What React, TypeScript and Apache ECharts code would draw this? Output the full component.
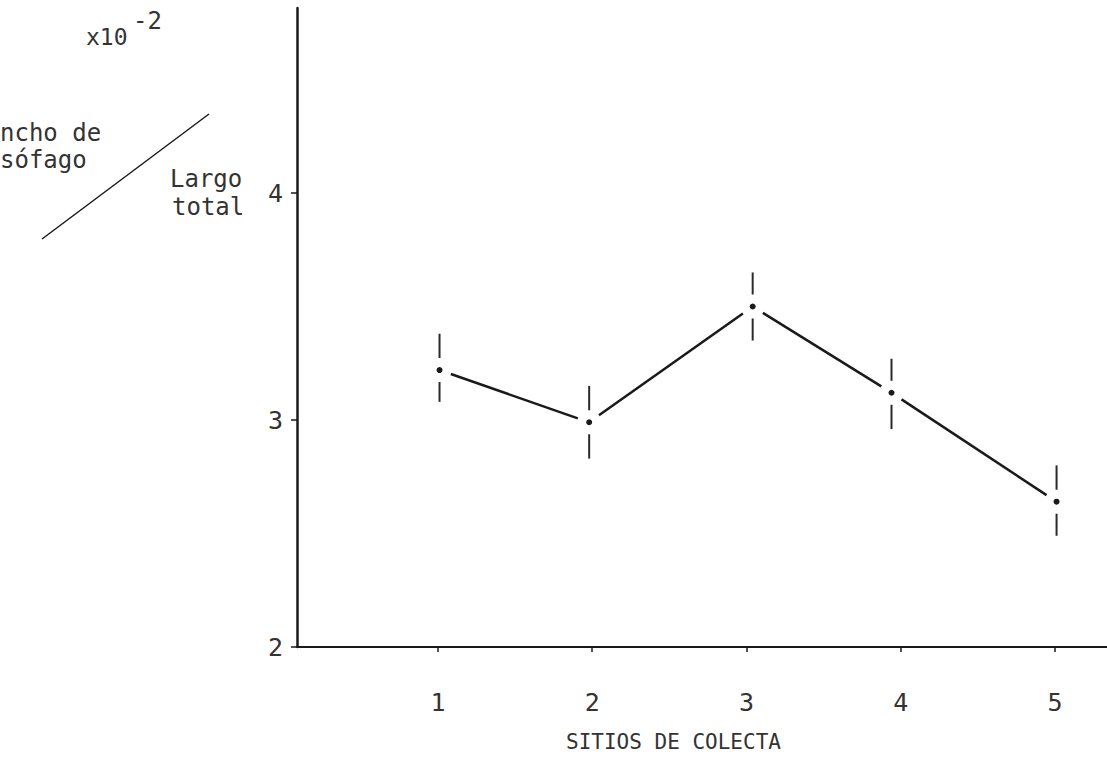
import React, { useEffect, useRef } from "react";
import * as echarts from "echarts";

const xPos = [1.01, 1.98, 3.04, 3.94, 5.01];
const means = [3.22, 2.99, 3.5, 3.12, 2.64];
const upper = [3.38, 3.15, 3.65, 3.27, 2.8];
const lower = [3.08, 2.83, 3.35, 2.96, 2.49];
const xTicks = [1, 2, 3, 4, 5];
const yTicks = [2, 3, 4];

const FONT = "DejaVu Sans Mono";
const INK = "#1a1a1a";
const TEXT = "#333";

export default function App() {
  const ref = useRef<HTMLDivElement>(null);
  useEffect(() => {
    if (!ref.current) return;
    const chart = echarts.init(ref.current, undefined, { renderer: "svg" });
    const data = xPos.map((x, i) => [x, means[i], lower[i], upper[i]]);
    const gapBar = 12;
    const gapLine = 12;
    chart.setOption({
      animation: false,
      backgroundColor: "#fff",
      grid: { left: 297, right: 0, top: 8, bottom: 113 },
      xAxis: {
        type: "value",
        min: 0.086,
        max: 5.337,
        splitLine: { show: false },
        axisLine: { show: true, lineStyle: { color: INK, width: 2 } },
        axisTick: { show: true, customValues: xTicks, length: 5, lineStyle: { color: INK, width: 1.5 } },
        axisLabel: { customValues: xTicks, margin: 43, fontFamily: FONT, fontSize: 25, color: TEXT },
      },
      yAxis: {
        type: "value",
        min: 2,
        max: 4.815,
        splitLine: { show: false },
        axisLine: { show: true, lineStyle: { color: INK, width: 2.5 } },
        axisTick: { show: true, customValues: yTicks, length: 6, lineStyle: { color: INK, width: 1.5 } },
        axisLabel: { customValues: yTicks, margin: 14, fontFamily: FONT, fontSize: 25, color: TEXT },
      },
      series: [
        {
          type: "custom",
          data,
          clip: false,
          renderItem: (params: any, api: any) => {
            const i = params.dataIndex;
            const p = api.coord([api.value(0), api.value(1)]);
            const lo = api.coord([api.value(0), api.value(2)]);
            const hi = api.coord([api.value(0), api.value(3)]);
            const children: any[] = [
              { type: "circle", shape: { cx: p[0], cy: p[1], r: 3 }, style: { fill: INK } },
              {
                type: "line",
                shape: { x1: hi[0], y1: hi[1], x2: p[0], y2: p[1] - gapBar },
                style: { stroke: "#2a2a2a", lineWidth: 2 },
              },
              {
                type: "line",
                shape: { x1: p[0], y1: p[1] + gapBar, x2: lo[0], y2: lo[1] },
                style: { stroke: "#2a2a2a", lineWidth: 2 },
              },
            ];
            if (i < xPos.length - 1) {
              const q = api.coord([xPos[i + 1], means[i + 1]]);
              const dx = q[0] - p[0];
              const dy = q[1] - p[1];
              const len = Math.sqrt(dx * dx + dy * dy);
              const ux = dx / len;
              const uy = dy / len;
              children.push({
                type: "line",
                shape: {
                  x1: p[0] + ux * gapLine,
                  y1: p[1] + uy * gapLine,
                  x2: q[0] - ux * gapLine,
                  y2: q[1] - uy * gapLine,
                },
                style: { stroke: INK, lineWidth: 2.5 },
              });
            }
            return { type: "group", children };
          },
        },
      ],
      graphic: [
        { type: "text", left: 86, top: 25, style: { text: "x10", font: `23px "${FONT}"`, fill: TEXT } },
        { type: "text", left: 133, top: 9, style: { text: "-2", font: `24px "${FONT}"`, fill: TEXT } },
        { type: "text", left: 0, top: 121, style: { text: "ncho de", font: `24px "${FONT}"`, fill: TEXT } },
        { type: "text", left: 0, top: 148, style: { text: "sófago", font: `24px "${FONT}"`, fill: TEXT } },
        {
          type: "line",
          shape: { x1: 42, y1: 239, x2: 209, y2: 114 },
          style: { stroke: INK, lineWidth: 1.5 },
        },
        { type: "text", left: 170, top: 167, style: { text: "Largo", font: `24px "${FONT}"`, fill: TEXT } },
        { type: "text", left: 172, top: 195, style: { text: "total", font: `24px "${FONT}"`, fill: TEXT } },
        {
          type: "text",
          left: 566,
          top: 731,
          style: { text: "SITIOS DE COLECTA", font: `21px "${FONT}"`, fill: TEXT },
        },
      ],
    });
    return () => chart.dispose();
  }, []);
  return (
    <div
      ref={ref}
      style={{ position: "fixed", left: 0, top: 0, width: 1107, height: 760, background: "#fff" }}
    />
  );
}
